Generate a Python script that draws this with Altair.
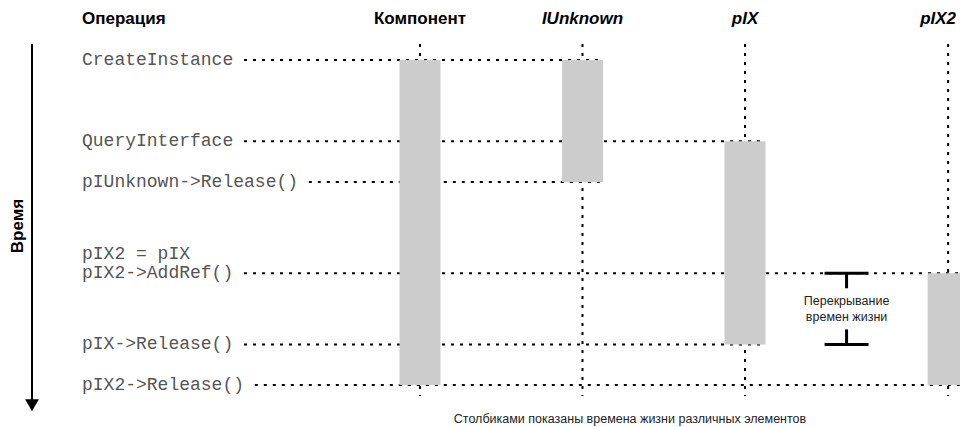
import altair as alt
import pandas as pd

# ---- data ----
columns = ["Компонент", "IUnknown", "pIX", "pIX2"]
column_pos = [1.0, 2.0, 3.0, 4.25]
column_italic = [False, True, True, True]

ops = ["CreateInstance", "QueryInterface", "pIUnknown->Release()", "pIX2 = pIX",
       "pIX2->AddRef()", "pIX->Release()", "pIX2->Release()"]
op_time = [0, 2, 3, 4.78, 5.25, 7, 8]
op_target = ["IUnknown", "pIX", "IUnknown", None, "pIX2", "pIX", "pIX2"]

life_start = [0, 0, 2, 5.25]
life_end = [8, 3, 7, 8]

overlap_between = ["pIX", "pIX2"]
overlap_from = 5.25
overlap_to = 7
overlap_text = ["Перекрывание", "времен жизни"]

op_header = "Операция"
time_label = "Время"
note = "Столбиками показаны времена жизни различных элементов"

# ---- layout ----
W, H = 952, 419
PX_X = 162.5          # px per column unit
PX_Y = 40.625         # px per time unit
x_dom = [1 - 412 / PX_X, 1 + (W - 412) / PX_X]
y_dom = [-52 / PX_Y, (H - 52) / PX_Y]
label_u = 1 + (74 - 412) / PX_X
char_w = 10.8 / PX_X
life_top, life_bot = -0.394, 8.27
header_t = -1.01
arrow_u = 1 + (24 - 412) / PX_X

xs = alt.Scale(domain=x_dom, nice=False, zero=False)
ys = alt.Scale(domain=y_dom, nice=False, zero=False, reverse=True)
X = lambda f: alt.X(f, type="quantitative", scale=xs, axis=None)
Y = lambda f: alt.Y(f, type="quantitative", scale=ys, axis=None)
X2 = lambda f: alt.X2(f)
Y2 = lambda f: alt.Y2(f)

pos = dict(zip(columns, column_pos))

# horizontal call lines
hl = pd.DataFrame([
    {"x": label_u + (len(o) + 1) * char_w, "x2": pos[tg], "t": t}
    for o, t, tg in zip(ops, op_time, op_target) if tg is not None
])
hlines = alt.Chart(hl).mark_rule(color="black", strokeWidth=2, strokeDash=[3, 6],
                                  x2Offset=20.5).encode(x=X("x"), x2=X2("x2"), y=Y("t"))

# lifelines
ll = pd.DataFrame({"x": column_pos, "y": [life_top] * 4, "y2": [life_bot] * 4})
lifelines = alt.Chart(ll).mark_rule(color="black", strokeWidth=2, strokeDash=[3, 6]).encode(
    x=X("x"), y=Y("y"), y2=Y2("y2"))

# lifetime bars
bl = pd.DataFrame({"x": column_pos, "y": life_start, "y2": life_end})
bars = alt.Chart(bl).mark_rule(color="#cccccc", strokeWidth=41, strokeCap="butt").encode(
    x=X("x"), y=Y("y"), y2=Y2("y2"))

# headers
HF = 17
hd = pd.DataFrame({"name": columns, "x": column_pos, "italic": column_italic, "t": header_t})
last = hd["name"] == columns[-1]
head_n = alt.Chart(hd[~hd["italic"]]).mark_text(font="Liberation Sans", fontSize=HF,
                                                 fontWeight="bold", color="black",
                                                 baseline="middle").encode(
    x=X("x"), y=Y("t"), text="name:N")
head_i = alt.Chart(hd[hd["italic"] & ~last]).mark_text(font="Liberation Sans", fontSize=HF,
                                                        fontWeight="bold", fontStyle="italic",
                                                        color="black", baseline="middle").encode(
    x=X("x"), y=Y("t"), text="name:N")
head_last = alt.Chart(hd[last]).mark_text(font="Liberation Sans", fontSize=HF,
                                          fontWeight="bold", fontStyle="italic", dx=-10,
                                          color="black", baseline="middle").encode(
    x=X("x"), y=Y("t"), text="name:N")
op_head = alt.Chart(pd.DataFrame({"name": [op_header], "x": [label_u], "t": [header_t]})).mark_text(
    font="Liberation Sans", fontSize=HF, fontWeight="bold", color="black",
    align="left", baseline="middle").encode(x=X("x"), y=Y("t"), text="name:N")

# operation labels
od = pd.DataFrame({"op": ops, "t": op_time, "x": label_u})
op_labels = alt.Chart(od).mark_text(font="Liberation Mono", fontSize=18, color="#555555",
                                    align="left", baseline="middle").encode(
    x=X("x"), y=Y("t"), text="op:N")

# overlap I-beam
ov_x = (pos[overlap_between[0]] + pos[overlap_between[1]]) / 2
stem = 15 / PX_Y
cross = pd.DataFrame({"x": [ov_x, ov_x], "t": [overlap_from, overlap_to]})
crossbars = alt.Chart(cross).mark_rule(color="black", strokeWidth=3, xOffset=-22,
                                       x2Offset=22).encode(x=X("x"), x2=X2("x"), y=Y("t"))
stems = alt.Chart(pd.DataFrame({"x": [ov_x, ov_x],
                                "y": [overlap_from, overlap_to - stem],
                                "y2": [overlap_from + stem, overlap_to]})).mark_rule(
    color="black", strokeWidth=3).encode(x=X("x"), y=Y("y"), y2=Y2("y2"))
mid = (overlap_from + overlap_to) / 2
ov_txt = alt.Chart(pd.DataFrame({"s": overlap_text, "x": ov_x,
                                 "t": [mid - 8 / PX_Y, mid + 8 / PX_Y]})).mark_text(
    font="Liberation Sans", fontSize=12.5, color="#222222", baseline="middle").encode(
    x=X("x"), y=Y("t"), text="s:N")

# time arrow
shaft = alt.Chart(pd.DataFrame({"x": [arrow_u], "y": [life_top], "y2": [life_bot + 0.1]})).mark_rule(
    color="black", strokeWidth=2).encode(x=X("x"), y=Y("y"), y2=Y2("y2"))
head = alt.Chart(pd.DataFrame({"x": [arrow_u], "y": [life_bot + 0.23]})).mark_point(
    shape="triangle-down", filled=True, color="black", opacity=1, size=190).encode(
    x=X("x"), y=Y("y"))
tlabel = alt.Chart(pd.DataFrame({"s": [time_label], "x": [1 + (10 - 412) / PX_X],
                                 "t": [(226 - 60) / PX_Y]})).mark_text(
    font="Liberation Sans", fontSize=HF, fontWeight="bold", color="black", angle=270,
    baseline="middle").encode(x=X("x"), y=Y("t"), text="s:N")

# note
note_c = alt.Chart(pd.DataFrame({"s": [note], "x": [1 + (622 - 412) / PX_X],
                                 "t": [(419 - 60) / PX_Y]})).mark_text(
    font="Liberation Sans", fontSize=12.5, color="#222222", baseline="middle").encode(
    x=X("x"), y=Y("t"), text="s:N")

chart = alt.layer(hlines, lifelines, bars, crossbars, stems, ov_txt, head_n, head_i, head_last,
                  op_head, op_labels, shaft, head, tlabel, note_c).properties(
    width=W, height=H, autosize=alt.AutoSizeParams(type="none"), padding=0
).configure_view(stroke=None)

chart.save("out.html", embed_options={"renderer": "svg", "actions": False})
